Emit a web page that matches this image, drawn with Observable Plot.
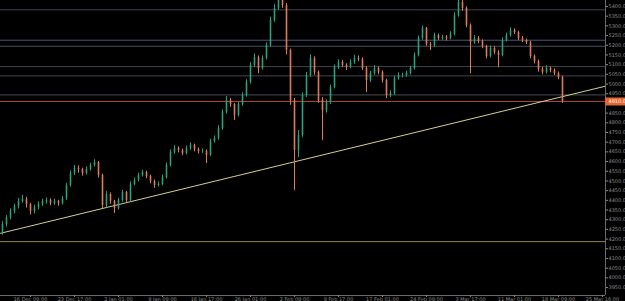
<!DOCTYPE html>
<html><head><meta charset="utf-8">
<script src="https://cdn.jsdelivr.net/npm/d3@7"></script>
<script src="https://cdn.jsdelivr.net/npm/@observablehq/plot@0.6"></script>
<style>
html,body{margin:0;padding:0;background:#000;overflow:hidden;}
#chart svg{display:block;}
</style></head><body><div id="chart"></div>
<script>
// ---- data ----
const firstOpen = 4234;
const closes = [
4275,4311,4342,4368,4394,4404,4378,4342,4363,4378,
4394,4399,4384,4394,4384,4409,4476,4538,4564,4559,
4538,4559,4580,4595,4528,4373,4430,4394,4358,4399,
4440,4399,4482,4502,4528,4543,4523,4497,4476,4482,
4518,4580,4647,4667,4657,4641,4667,4683,4662,4652,
4652,4631,4703,4719,4770,4853,4915,4894,4838,4894,
4941,5008,5096,5137,5080,5132,5199,5328,5390,5457,
5405,5173,4915,4657,4734,4941,5044,5132,5060,4915,
4863,4905,4982,5085,5111,5096,5085,5111,5132,5127,
5080,5018,5054,5080,5060,5018,4941,4951,5029,5044,
5044,5054,5080,5147,5235,5286,5204,5199,5250,5235,
5240,5235,5256,5354,5421,5390,5302,5214,5235,5219,
5194,5142,5183,5163,5147,5225,5250,5276,5266,5235,
5225,5214,5142,5116,5075,5060,5080,5070,5054,5034,
4910];
const highs = [
4290,4322,4356,4380,4410,4425,4415,4385,4375,4392,
4405,4412,4408,4406,4400,4420,4488,4552,4580,4578,
4566,4572,4592,4610,4600,4535,4445,4438,4400,4410,
4452,4446,4495,4515,4540,4556,4550,4530,4505,4495,
4530,4592,4660,4682,4676,4665,4680,4696,4690,4670,
4665,4660,4715,4732,4785,4866,4935,4925,4900,4905,
4955,5022,5110,5155,5145,5145,5212,5345,5410,5480,
5490,5415,5180,4925,4760,4955,5060,5150,5140,5068,
4930,4918,4995,5098,5125,5122,5105,5125,5148,5145,
5135,5090,5066,5095,5088,5068,5025,4965,5040,5058,
5056,5066,5092,5160,5248,5300,5292,5215,5262,5258,
5252,5250,5270,5368,5445,5440,5398,5310,5250,5245,
5228,5200,5196,5192,5172,5238,5262,5290,5285,5272,
5245,5232,5220,5150,5124,5086,5094,5088,5078,5062,
5040];
const lows = [
4220,4262,4300,4330,4355,4385,4360,4325,4330,4350,
4368,4380,4372,4375,4370,4376,4400,4468,4528,4540,
4525,4530,4550,4572,4515,4355,4360,4380,4332,4350,
4390,4385,4392,4475,4495,4520,4512,4485,4462,4468,
4475,4510,4572,4638,4645,4630,4634,4658,4650,4640,
4642,4590,4625,4695,4710,4762,4845,4880,4812,4830,
4885,4932,5000,5085,5054,5072,5125,5190,5318,5380,
5390,5150,4890,4451,4620,4725,4930,5035,5045,4900,
4709,4850,4895,4975,5075,5085,5070,5078,5102,5115,
5070,4956,5008,5045,5048,5005,4925,4930,4942,5020,
5032,5035,5046,5072,5140,5226,5195,5173,5190,5225,
5226,5222,5228,5248,5345,5375,5290,5054,5205,5208,
5182,5130,5135,5152,5085,5140,5218,5242,5255,5225,
5214,5204,5130,5104,5062,5048,5052,5058,5044,5022,
4900];
const xTickSlots = [7,18,29,40,51,62,73,84,95,106,117,128,139,150];
const xTickLabels = ["16 Dec 09:00","23 Dec 17:00","2 Jan 01:00","9 Jan 09:00","16 Jan 17:00","26 Jan 01:00","2 Feb 09:00","9 Feb 17:00","17 Feb 01:00","24 Feb 09:00","3 Mar 17:00","11 Mar 01:00","18 Mar 09:00","25 Mar 16:00"];
const yTicks = [5400,5350,5300,5250,5200,5150,5100,5050,5000,4950,4900,4850,4800,4750,4700,4650,4600,4550,4500,4450,4400,4350,4300,4250,4200,4150,4100,4050,4000,3950];
const levelPrices = [5383,5226,5195,5090,5042,4944];
const supportPrice = 4187;
const trendSlots = [-0.5, 150.75];
const trendPrices = [4230, 4989];
const slotDomain = [-0.5, 150.75];
const priceDomain = [3909, 5431];

// ---- styles ----
const levelColors = ["#3c4356","#4f5188","#4a4e60","#41454f","#41454f","#4a4d57"];
const upColor = "#27a47c", downColor = "#e27b52";

const candles = closes.map((c, i) => ({
  i, close: c, open: i ? closes[i - 1] : firstOpen, high: highs[i], low: lows[i]
}));
const levels = levelPrices.map((p, k) => ({p, c: levelColors[k]}));
const trend = trendSlots.map((s, k) => ({s, p: trendPrices[k]}));
const lastClose = closes[closes.length - 1];
const col = d => d.close >= d.open ? upColor : downColor;
// the tick hidden under the last-price tag is not shown
const shownYTicks = yTicks.filter(t => Math.abs(t - lastClose) > 20);

const chart = Plot.plot({
  width: 625, height: 301,
  marginLeft: 0, marginRight: 20, marginTop: 0, marginBottom: 6,
  style: {background: "#000", color: "#8c8c8c", fontFamily: "DejaVu Sans, sans-serif"},
  x: {domain: slotDomain, axis: null},
  y: {domain: priceDomain, axis: null},
  color: {type: "identity"},
  marks: [
    Plot.ruleY(levels, {y: "p", stroke: "c", strokeWidth: 1}),
    Plot.ruleY([supportPrice], {stroke: "#8e8748", strokeWidth: 1}),
    Plot.ruleY([lastClose], {stroke: "#a94b36", strokeWidth: 1}),
    Plot.line(trend, {x: "s", y: "p", stroke: "#d4cf90", strokeWidth: 1}),
    Plot.ruleX(candles, {x: "i", y1: "low", y2: "high", stroke: col, strokeWidth: 1, clip: true}),
    Plot.ruleX(candles, {x: "i", y1: "open", y2: "close", stroke: col, strokeWidth: 1.6, clip: true}),
    Plot.ruleY([priceDomain[0]], {stroke: "#6a6a6a"}),
    Plot.ruleX([slotDomain[1]], {stroke: "#6a6a6a"}),
    Plot.axisY(shownYTicks, {anchor: "right", tickSize: 2, tickPadding: 1, fontSize: 5, tickFormat: d => d.toFixed(1)}),
    Plot.axisX(xTickSlots, {anchor: "bottom", tickSize: 2, tickPadding: 0, fontSize: 5,
      tickFormat: d => xTickLabels[xTickSlots.indexOf(d)]}),
    Plot.ruleY([lastClose], {x1: slotDomain[1], x2: slotDomain[1] + 5, stroke: "#e8642f", strokeWidth: 8, clip: false}),
    Plot.text([lastClose], {x: slotDomain[1], y: d => d, text: d => d.toFixed(1), textAnchor: "start", dx: 3, fill: "#ffffff", fontSize: 5})
  ]
});
document.getElementById("chart").append(chart);
</script>
</body></html>
